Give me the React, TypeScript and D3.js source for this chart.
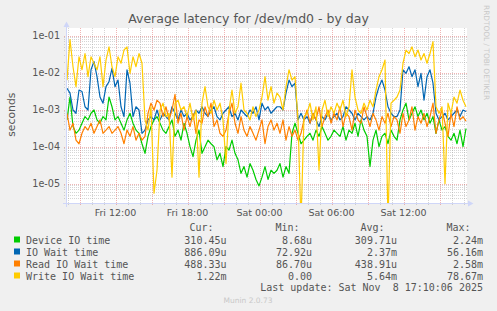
import React, { useEffect } from "react";
import * as d3 from "d3";

// ---------- data ----------
const seriesNames = ["Device IO time", "IO Wait time", "Read IO Wait time", "Write IO Wait time"];
const seriesColors = ["#00CC00", "#0066B3", "#FF8000", "#FFCC00"];
const curValues = ["310.45u", "886.09u", "488.33u", "1.22m"];
const minValues = ["8.68u", "72.92u", "86.70u", "0.00"];
const avgValues = ["309.71u", "2.37m", "438.91u", "5.64m"];
const maxValues = ["2.24m", "56.16m", "2.58m", "78.67m"];

const yTicks = [1e-1, 1e-2, 1e-3, 1e-4, 1e-5];
const yTickLabels = ["1e-01", "1e-02", "1e-03", "1e-04", "1e-05"];
const xTickTimes = ["2025-11-07T12:00:00", "2025-11-07T18:00:00", "2025-11-08T00:00:00", "2025-11-08T06:00:00", "2025-11-08T12:00:00"];
const xTickLabels = ["Fri 12:00", "Fri 18:00", "Sat 00:00", "Sat 06:00", "Sat 12:00"];

const rangeStart = "2025-11-07T07:57:30";
const rangeEnd = "2025-11-08T17:17:30";
const firstSample = "2025-11-07T07:57:30";
const sampleMinutes = 15;

const deviceIO = [
  5.3e-4, 2.2e-3, 3.5e-4, 2.3e-4, 2.8e-4, 4.3e-4, 6.5e-4, 5.3e-4, 8.0e-4, 9.8e-4,
  5.3e-4, 4.3e-4, 6.5e-4, 5.3e-4, 2.2e-3, 1.2e-3, 5.3e-4, 6.5e-4, 4.3e-4, 2.8e-4,
  5.3e-4, 8.0e-4, 4.3e-4, 2.8e-4, 2.3e-4, 1.2e-4, 6.6e-5, 1.9e-4, 3.5e-4, 5.3e-4,
  6.5e-4, 4.3e-4, 2.8e-4, 2.3e-4, 3.5e-4, 5.3e-4, 1.9e-4, 2.8e-4, 1.5e-4, 4.3e-4,
  2.3e-4, 1.0e-4, 5.4e-5, 1.5e-4, 2.8e-4, 6.6e-5, 1.0e-4, 1.5e-4, 1.2e-4, 1.0e-4,
  4.4e-5, 6.6e-5, 2.9e-5, 1.0e-4, 8.1e-5, 1.5e-4, 6.6e-5, 4.4e-5, 1.9e-5, 2.9e-5,
  1.5e-5, 3.5e-5, 2.3e-5, 1.3e-5, 8.7e-6, 1.5e-5, 2.9e-5, 1.3e-5, 2.3e-5, 1.9e-5,
  2.3e-5, 3.5e-5, 1.5e-5, 2.9e-5, 1.9e-5, 2.3e-4, 4.3e-4, 2.3e-4, 1.2e-4, 1.5e-4,
  1.9e-4, 2.3e-4, 1.5e-4, 2.8e-4, 1.9e-4, 3.5e-4, 2.3e-4, 1.5e-4, 1.9e-4, 2.8e-4,
  2.3e-4, 1.9e-4, 3.5e-4, 1.5e-4, 2.8e-4, 2.3e-4, 4.3e-4, 1.9e-4, 5.3e-4, 2.8e-4,
  1.9e-4, 2.9e-5, 1.5e-4, 2.8e-4, 1.0e-4, 1.9e-4, 2.3e-4, 1.2e-4, 2.8e-4, 1.9e-4,
  1.5e-4, 5.3e-4, 9.8e-4, 1.5e-3, 5.3e-4, 8.0e-4, 1.2e-3, 6.5e-4, 9.8e-4, 5.3e-4,
  8.0e-4, 4.3e-4, 6.5e-4, 2.3e-4, 5.3e-4, 2.8e-4, 3.5e-4, 1.9e-4, 1.5e-4, 2.3e-4,
  1.2e-4, 2.8e-4, 1.0e-4, 3.1e-4,
];

const ioWait = [
  3.8e-3, 2.8e-3, 9.8e-4, 8.0e-4, 3.4e-3, 3.1e-3, 1.2e-3, 9.8e-4, 1.2e-2, 2.0e-2,
  7.8e-3, 2.2e-3, 1.5e-3, 4.2e-3, 5.7e-3, 1.3e-2, 4.2e-3, 6.3e-3, 1.2e-3, 6.5e-4,
  1.2e-2, 5.2e-3, 6.5e-4, 1.2e-3, 9.8e-4, 2.3e-4, 2.8e-4, 5.3e-4, 6.5e-4, 5.3e-4,
  9.8e-4, 5.3e-4, 8.0e-4, 6.5e-4, 5.3e-4, 1.2e-3, 8.0e-4, 5.3e-4, 9.8e-4, 6.5e-4,
  8.0e-4, 5.3e-4, 6.5e-4, 9.8e-4, 8.0e-4, 1.2e-3, 8.0e-4, 6.5e-4, 9.8e-4, 1.2e-3,
  6.5e-4, 5.3e-4, 8.0e-4, 9.8e-4, 1.2e-3, 6.5e-4, 8.0e-4, 5.3e-4, 9.8e-4, 8.0e-4,
  6.5e-4, 9.8e-4, 8.0e-4, 1.2e-3, 5.3e-4, 1.5e-3, 9.8e-4, 1.2e-3, 8.0e-4, 9.8e-4,
  1.2e-3, 1.2e-3, 9.8e-4, 2.8e-3, 6.3e-3, 4.2e-3, 5.2e-3, 5.3e-4, 8.0e-4, 5.3e-4,
  6.5e-4, 4.3e-4, 8.0e-4, 5.3e-4, 3.5e-4, 6.5e-4, 5.3e-4, 8.0e-4, 5.3e-4, 6.5e-4,
  8.0e-4, 5.3e-4, 6.5e-4, 1.2e-3, 9.8e-4, 8.0e-4, 5.3e-4, 8.0e-4, 6.5e-4, 5.3e-4,
  6.5e-4, 5.3e-4, 8.0e-4, 2.2e-3, 4.2e-3, 6.3e-3, 3.4e-3, 1.2e-3, 8.0e-4, 6.5e-4,
  6.5e-4, 9.8e-4, 1.2e-2, 9.6e-3, 1.45e-2, 7.8e-3, 1.2e-2, 4.2e-3, 9.6e-3, 1.8e-3,
  7.8e-3, 1.2e-2, 5.2e-3, 8.0e-4, 5.3e-4, 6.5e-4, 8.0e-4, 5.3e-4, 6.5e-4, 8.0e-4,
  9.8e-4, 6.5e-4, 9.8e-4, 8.9e-4,
];

const readIO = [
  8.0e-4, 2.8e-4, 4.3e-4, 1.5e-4, 1.2e-4, 2.3e-4, 3.5e-4, 2.8e-4, 4.3e-4, 2.3e-4,
  3.5e-4, 5.3e-4, 2.3e-4, 2.8e-4, 3.5e-4, 2.3e-4, 2.8e-4, 3.5e-4, 2.3e-4, 1.2e-4,
  2.8e-4, 1.9e-4, 3.5e-4, 1.5e-4, 2.3e-4, 1.5e-4, 1.9e-4, 8.0e-4, 1.5e-3, 9.8e-4,
  1.8e-3, 1.5e-3, 6.5e-4, 1.2e-3, 5.3e-4, 9.8e-4, 2.6e-3, 4.3e-4, 8.0e-4, 2.8e-4,
  6.5e-4, 3.5e-4, 8.0e-4, 2.3e-4, 5.3e-4, 4.3e-4, 1.2e-3, 6.5e-4, 1.5e-3, 3.5e-4,
  5.3e-4, 2.3e-4, 1.9e-4, 2.8e-4, 8.0e-4, 1.5e-3, 4.3e-4, 2.3e-4, 6.5e-4, 2.8e-4,
  1.9e-4, 3.5e-4, 2.3e-4, 1.5e-4, 2.8e-4, 5.3e-4, 1.2e-4, 3.5e-4, 5.3e-4, 2.8e-4,
  4.3e-4, 2.3e-4, 5.3e-4, 1.5e-4, 3.5e-4, 1.9e-4, 2.8e-4, 1.5e-4, 2.3e-4, 5.3e-4,
  9.8e-4, 4.3e-4, 8.0e-4, 5.3e-4, 1.2e-3, 3.5e-4, 6.5e-4, 9.8e-4, 4.3e-4, 8.0e-4,
  5.3e-4, 1.2e-3, 3.5e-4, 8.0e-4, 6.5e-4, 2.8e-4, 9.8e-4, 5.3e-4, 4.3e-4, 1.2e-3,
  6.5e-4, 3.5e-4, 8.0e-4, 5.3e-4, 2.8e-4, 6.5e-4, 4.3e-4, 8.0e-4, 3.5e-4, 6.5e-4,
  5.3e-4, 2.3e-4, 8.0e-4, 3.5e-4, 5.3e-4, 1.2e-3, 2.8e-4, 6.5e-4, 4.3e-4, 8.0e-4,
  3.5e-4, 6.5e-4, 1.5e-3, 2.3e-4, 5.3e-4, 9.8e-4, 4.3e-4, 1.9e-4, 8.0e-4, 3.5e-4,
  1.2e-3, 5.3e-4, 6.5e-4, 4.9e-4,
];

const writeIO = [
  6.3e-3, 7.9e-2, 1.45e-2, 4.2e-3, 2.7e-2, 1.2e-2, 3.3e-2, 7.8e-3, 2.7e-2, 1.8e-2,
  1.2e-2, 2.7e-2, 4.2e-3, 2.2e-2, 5.0e-2, 1.45e-2, 7.8e-3, 2.7e-2, 1.8e-2, 4.1e-2,
  5.0e-2, 9.6e-3, 2.7e-2, 1.45e-2, 3.3e-2, 1.8e-2, 5.3e-4, 2.8e-4, 1.2e-3, 5.5e-6,
  2.3e-5, 9.8e-4, 1.5e-3, 6.5e-4, 8.0e-4, 1.5e-5, 1.5e-3, 1.8e-3, 9.8e-4, 1.2e-3,
  6.5e-4, 1.5e-3, 5.3e-4, 9.8e-4, 1.5e-5, 1.5e-3, 4.2e-3, 1.2e-3, 8.0e-4, 1.8e-3,
  9.8e-4, 1.5e-3, 5.3e-4, 3.5e-5, 9.8e-4, 3.4e-3, 8.0e-4, 1.2e-3, 5.2e-3, 9.8e-4,
  8.0e-4, 5.3e-4, 1.2e-3, 6.5e-4, 9.8e-4, 2.2e-3, 7.8e-3, 1.8e-3, 4.2e-3, 1.5e-3,
  2.8e-3, 2.2e-3, 9.8e-4, 4.2e-3, 1.2e-2, 6.3e-3, 7.8e-3, 5.3e-4, 0, 6.5e-4,
  8.0e-4, 1.5e-3, 5.3e-4, 1.2e-3, 2.3e-5, 9.8e-4, 1.8e-3, 6.5e-4, 1.2e-3, 8.0e-4,
  1.5e-3, 9.8e-4, 1.8e-3, 6.5e-4, 1.2e-3, 1.2e-2, 2.2e-3, 9.8e-4, 8.0e-4, 1.5e-3,
  9.8e-4, 1.8e-3, 1.2e-3, 3.4e-3, 7.8e-3, 1.2e-2, 2.2e-2, 0, 1.5e-3, 1.8e-3,
  2.2e-3, 3.4e-3, 1.8e-2, 4.1e-2, 3.3e-2, 5.0e-2, 2.7e-2, 4.1e-2, 2.2e-2, 3.3e-2,
  1.8e-2, 3.3e-2, 6.9e-2, 1.2e-3, 8.0e-4, 1.2e-3, 1.0e-5, 1.5e-3, 8.0e-4, 2.2e-3,
  1.5e-3, 3.4e-3, 1.8e-3, 1.2e-3,
];

const seriesData = [deviceIO, ioWait, readIO, writeIO];

// ---------- layout ----------
const W = 497;
const H = 311;
const PL = 67;
const PR = 467;
const PT = 28;
const PB = 203;
const Y_MIN = 3.0e-6;
const Y_MAX = 0.1615;

const FONT = "'DejaVu Sans', Verdana, sans-serif";
const MONO = "'DejaVu Sans Mono', monospace";
const TXT = "#555555";

export default function App() {
  useEffect(() => {
    document.body.style.margin = "0";
    document.body.style.background = "#F0F0F0";
  }, []);

  const x = d3.scaleTime().domain([new Date(rangeStart), new Date(rangeEnd)]).range([PL, PR]);
  const y = d3.scaleLog().domain([Y_MIN, Y_MAX]).range([PB, PT]);
  const t0 = new Date(firstSample).getTime();
  const timeAt = (i: number) => new Date(t0 + i * sampleMinutes * 60000);

  const line = d3
    .line<number>()
    .x((_, i) => x(timeAt(i)))
    .y((v) => (v > 0 ? y(v) : PB + 20));

  // grids
  const hours = d3.timeHour.range(new Date(rangeStart), new Date(rangeEnd));
  const hLines: { v: number; major: boolean }[] = [];
  for (let k = -7; k <= 0; k++) {
    for (let m = 1; m <= 9; m++) {
      const v = m * Math.pow(10, k);
      if (v >= Y_MIN && v <= Y_MAX) hLines.push({ v, major: m === 1 });
    }
  }
  const minorCol = "rgba(150,150,150,0.4)";
  const majorCol = "rgba(222,90,90,0.45)";

  return (
    <svg width={W} height={H} style={{ display: "block", background: "#F0F0F0" }} xmlns="http://www.w3.org/2000/svg">
      <rect x={0} y={0} width={W} height={H} fill="#F0F0F0" />
      <text x={248.5} y={23} textAnchor="middle" fontFamily={FONT} fontSize={12.5} fill={TXT}>
        Average latency for /dev/md0 - by day
      </text>
      <text
        transform="translate(484.3,5) rotate(90)"
        fontFamily={FONT}
        fontSize={7.4}
        fill="#c8c8c8"
        textAnchor="start"
      >
        RRDTOOL / TOBI OETIKER
      </text>
      <text transform="translate(15.2,114.7) rotate(-90)" textAnchor="middle" fontFamily={FONT} fontSize={10.8} fill={TXT}>
        seconds
      </text>

      <rect x={PL - 1} y={PT} width={PR - PL + 1} height={PB - PT} fill="#FFFFFF" />

      <defs>
        <clipPath id="plotclip">
          <rect x={PL - 1} y={PT} width={PR - PL + 1} height={PB - PT + 0.5} />
        </clipPath>
      </defs>

      {/* horizontal grid */}
      {hLines.filter((h) => !h.major).map((h, i) => {
        const yy = Math.round(y(h.v)) + 0.5;
        return <line key={"hm" + i} x1={PL - 3} x2={PR} y1={yy} y2={yy} stroke={minorCol} strokeDasharray="1,1" strokeWidth={1} />;
      })}
      {/* vertical minor grid */}
      {hours.filter((d) => d.getHours() % 3 !== 0).map((d, i) => {
        const xx = Math.round(x(d)) + 0.5;
        return <line key={"vm" + i} x1={xx} x2={xx} y1={PT} y2={PB + 3} stroke={minorCol} strokeDasharray="1,1" strokeWidth={1} />;
      })}
      {hLines.filter((h) => h.major).map((h, i) => {
        const yy = Math.round(y(h.v)) + 0.5;
        return <line key={"hM" + i} x1={PL - 3} x2={PR} y1={yy} y2={yy} stroke={majorCol} strokeDasharray="1,1" strokeWidth={1} />;
      })}
      {hours.filter((d) => d.getHours() % 3 === 0).map((d, i) => {
        const xx = Math.round(x(d)) + 0.5;
        return <line key={"vM" + i} x1={xx} x2={xx} y1={PT} y2={PB + 3} stroke={majorCol} strokeDasharray="1,1" strokeWidth={1} />;
      })}

      {/* y tick labels */}
      {yTicks.map((v, i) => (
        <text key={"yl" + i} x={60} y={y(v) + 3.5} textAnchor="end" fontFamily={FONT} fontSize={9.6} fill={TXT}>
          {yTickLabels[i]}
        </text>
      ))}
      {/* x tick labels */}
      {xTickTimes.map((t, i) => (
        <text key={"xl" + i} x={x(new Date(t))} y={216} textAnchor="middle" fontFamily={FONT} fontSize={9.5} fill={TXT}>
          {xTickLabels[i]}
        </text>
      ))}

      {/* series */}
      <g clipPath="url(#plotclip)">
        {seriesData.map((s, i) => (
          <path key={"s" + i} d={line(s) || ""} fill="none" stroke={seriesColors[i]} strokeWidth={1.2} strokeLinejoin="round" />
        ))}
      </g>

      {/* axes */}
      <line x1={PL - 4} x2={PR + 2} y1={PB + 0.5} y2={PB + 0.5} stroke="#CFD6F8" strokeWidth={1} />
      <line x1={PL - 0.5} x2={PL - 0.5} y1={PB + 4} y2={PT - 4} stroke="#CFD6F8" strokeWidth={1} />
      <polygon points={`${PR + 1},${PB - 2.5} ${PR + 1},${PB + 3.5} ${PR + 6.5},${PB + 0.5}`} fill="#CFD6F8" />
      <polygon points={`${PL - 3.5},${PT - 1} ${PL + 2.5},${PT - 1} ${PL - 0.5},${PT - 6.5}`} fill="#CFD6F8" />

      {/* legend */}
      <g fontFamily={MONO} fontSize={10} fill={TXT} style={{ whiteSpace: "pre" }}>
        <text x={213.5} y={231} textAnchor="end">Cur:</text>
        <text x={299.5} y={231} textAnchor="end">Min:</text>
        <text x={384.5} y={231} textAnchor="end">Avg:</text>
        <text x={470.5} y={231} textAnchor="end">Max:</text>
        {seriesNames.map((n, i) => {
          const by = 243.5 + i * 12;
          return (
            <g key={"lg" + i}>
              <rect x={14} y={by - 7} width={6} height={6} fill={seriesColors[i]} />
              <text x={26} y={by}>{n}</text>
              <text x={226.5} y={by} textAnchor="end">{curValues[i]}</text>
              <text x={312} y={by} textAnchor="end">{minValues[i]}</text>
              <text x={397} y={by} textAnchor="end">{avgValues[i]}</text>
              <text x={483} y={by} textAnchor="end">{maxValues[i]}</text>
            </g>
          );
        })}
        <text x={483} y={291} textAnchor="end" xmlSpace="preserve" style={{ whiteSpace: "pre" }}>
          {"Last update: Sat Nov  8 17:10:06 2025"}
        </text>
      </g>
      <text x={248} y={302.5} textAnchor="middle" fontFamily={FONT} fontSize={7.5} fill="#c8c8c8">
        Munin 2.0.73
      </text>
    </svg>
  );
}
